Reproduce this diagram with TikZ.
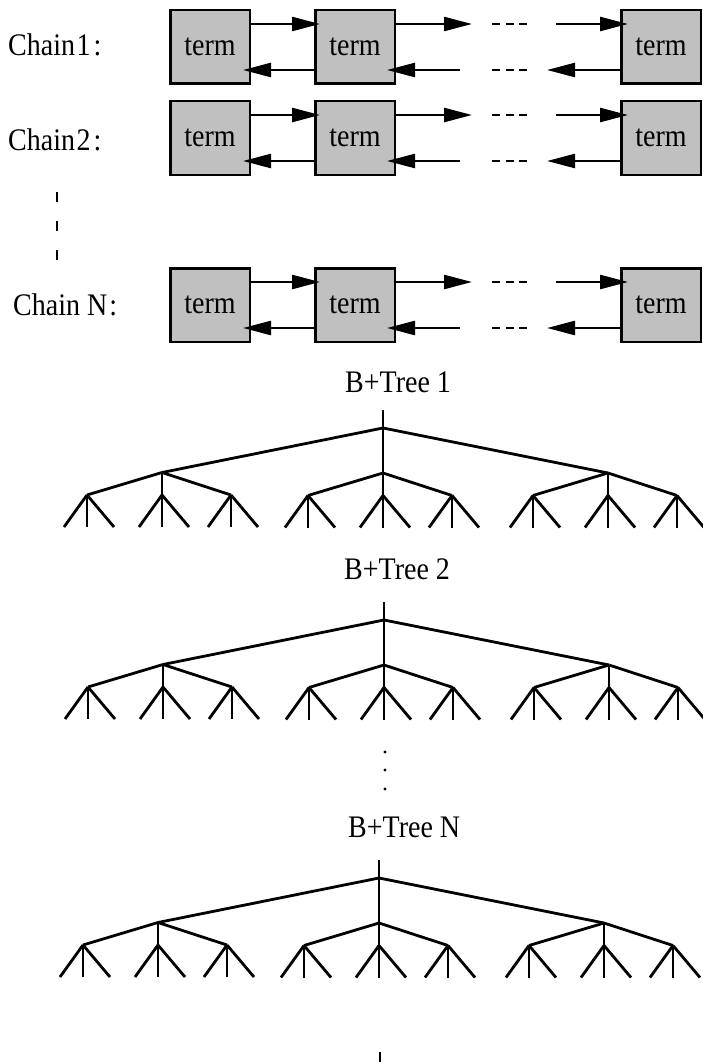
\documentclass[tikz,border=0pt]{standalone}
\usepackage{fontspec}
\setmainfont{Liberation Serif}
\usetikzlibrary{arrows.meta,calc}
\definecolor{boxgray}{RGB}{192,192,192}
\newcommand{\stx}[1]{\scalebox{1}[1.12]{#1}}
\tikzset{
  box/.style={draw, line width=2.5pt, fill=boxgray, minimum width=79.5pt,
    minimum height=73.5pt, inner sep=0pt, font=\fontsize{28}{30}\selectfont},
  arr/.style={line width=2.5pt, -{Triangle[length=28pt,width=14pt]}},
  dashln/.style={line width=2.5pt, dash pattern=on 8pt off 5.5pt},
  vdash/.style={line width=2.6pt, dash pattern=on 10pt off 19pt},
  lbl/.style={font=\fontsize{28}{30}\selectfont, inner sep=0pt, anchor=base west},
  tr/.style={line width=2.8pt, line cap=butt},
}
\newcommand{\chainrow}[2]{%
  \node[box] (#1a) at (210,#2) {\stx{term}\hspace{7pt}};
  \node[box] (#1b) at (355,#2) {\stx{term}\hspace{7pt}};
  \node[box] (#1c) at (661,#2) {\stx{term}\hspace{7pt}};
  % upper row (rightwards)
  \coordinate (#1u1) at ($(#1b.west)+(6,-23)$);
  \coordinate (#1u2s) at ($(#1b.east)+(0,-23)$);
  \coordinate (#1u2e) at ($(#1b.east)+(76,-23)$);
  \coordinate (#1ud1) at ($(#1b.east)+(96,-23)$);
  \coordinate (#1ud2) at ($(#1b.east)+(131,-23)$);
  \coordinate (#1u3s) at ($(#1c.west)+(-64,-23)$);
  \coordinate (#1u3e) at ($(#1c.west)+(8,-23)$);
  \draw[arr] ($(#1a.east)+(0,-23)$) -- (#1u1);
  \draw[arr] (#1u2s) -- (#1u2e);
  \draw[dashln] (#1ud1) -- (#1ud2);
  \draw[arr] (#1u3s) -- (#1u3e);
  % lower row (leftwards)
  \coordinate (#1l3e) at ($(#1c.west)+(-73,23)$);
  \coordinate (#1ld1) at ($(#1b.east)+(96,23)$);
  \coordinate (#1ld2) at ($(#1b.east)+(131,23)$);
  \coordinate (#1l2s) at ($(#1b.east)+(64,23)$);
  \coordinate (#1l2e) at ($(#1b.east)+(-9,23)$);
  \coordinate (#1l1e) at ($(#1a.east)+(-8,23)$);
  \draw[arr] ($(#1c.west)+(0,23)$) -- (#1l3e);
  \draw[dashln] (#1ld1) -- (#1ld2);
  \draw[arr] (#1l2s) -- (#1l2e);
  \draw[arr] ($(#1b.west)+(0,23)$) -- (#1l1e);
}
\newcommand{\btree}[3]{%
  \coordinate (#1t) at (#2,#3-18);
  \coordinate (#1r) at (#2,#3);
  \coordinate (#1A) at (#2-221,#3+44.5);
  \coordinate (#1B) at (#2,#3+45);
  \coordinate (#1C) at (#2+225,#3+45);
  \draw[tr] (#1t) -- (#1r);
  \draw[tr] (#1A) -- (#1r) -- (#1C);
  \draw[tr] (#1r) -- (#1B);
  \foreach \p in {A,B,C}{
    \foreach \q/\dx in {1/-75,2/0,3/69}{
      \coordinate (#1\p\q) at ($(#1\p)+(\dx,22.5)$);
      \draw[tr] (#1\p) -- (#1\p\q);
      \draw[tr] (#1\p\q) -- ++(-23,32);
      \draw[tr] (#1\p\q) -- ++(0,32);
      \draw[tr] (#1\p\q) -- ++(27,32);
    }
  }
}
\begin{document}
\begin{tikzpicture}[x=1pt,y=-1pt]
  \useasboundingbox (0,0) rectangle (703,1062);
  % chains
  \node[lbl] (lab1) at (8,56) {\stx{Chain\hspace{1.5pt}1\hspace{3pt}:}};
  \node[lbl] (lab2) at (8,150) {\stx{Chain\hspace{1.5pt}2\hspace{3pt}:}};
  \node[lbl] (labN) at (13,315) {\stx{Chain N\hspace{2pt}:}};
  \chainrow{c1}{47}
  \chainrow{c2}{138}
  \chainrow{cN}{305}
  \draw[vdash] (57,192) -- (57,261);
  % trees
  \node[lbl] (t1lab) at (345,392) {\stx{B+Tree 1}};
  \btree{ta}{383}{428}
  \node[lbl] (t2lab) at (344,579) {\stx{B+Tree 2}};
  \btree{tb}{384}{620}
  \fill (385,752) circle (1.6pt);
  \fill (385,770) circle (1.6pt);
  \fill (385,789) circle (1.6pt);
  \node[lbl] (tNlab) at (348,837) {\stx{B+Tree N}};
  \btree{tc}{379}{878}
  \draw[line width=2pt] (380,1052) -- (380,1062);
\end{tikzpicture}
\end{document}
